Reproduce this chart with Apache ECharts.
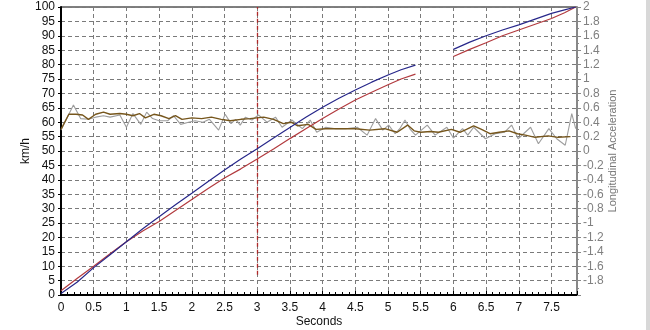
<!DOCTYPE html>
<html>
<head>
<meta charset="utf-8">
<script src="https://cdn.jsdelivr.net/npm/echarts@6/dist/echarts.min.js"></script>
<style>
  html, body { margin: 0; padding: 0; background: #fff; }
  #chart { width: 650px; height: 330px; }
</style>
</head>
<body>
<div id="chart"></div>
<script>
// speed traces (km/h), '-' = gap in the log
const speedTime = [0, 0.25, 0.5, 0.75, 1, 1.25, 1.5, 1.75, 2, 2.25, 2.5, 2.75, 3, 3.25, 3.5, 3.75, 4, 4.25, 4.5, 4.75, 5, 5.2, 5.42,
  5.7, 6.0, 6.25, 6.5, 6.75, 7, 7.25, 7.5, 7.7, 7.87]
const speedBlue = [0.5, 4.5, 9.5, 14, 18.5, 23, 27.2, 31.3, 35.3, 39.4, 43.4, 47.2, 50.8, 54.5, 58.2, 61.8, 65.2, 68.3, 71.2, 73.9, 76.4, 78.2, 79.8,
  '-', 85.3, 87.8, 90, 92, 93.8, 95.8, 97.8, 99, 100]
const speedRed = [1.5, 5.8, 10, 14.3, 18.5, 22.2, 25.5, 29.3, 33.2, 37, 40.6, 43.8, 47.2, 50.7, 54.3, 57.8, 61.3, 64.6, 67.7, 70.4, 73, 75, 76.7,
  '-', 82.8, 85.3, 87.6, 90, 92, 94, 96, 98, 100]

// longitudinal acceleration (g), raw and filtered
const rawTime = [0, 0.19, 0.3, 0.42, 0.53, 0.65, 0.75, 0.9, 1.0, 1.1, 1.22, 1.31, 1.4, 1.5, 1.63, 1.72, 1.83, 1.95, 2.05, 2.17, 2.27, 2.41, 2.51,
  2.6, 2.67, 2.74, 2.82, 2.92, 3.02, 3.15, 3.28, 3.38, 3.53, 3.69, 3.81, 3.91, 4.05, 4.2, 4.35, 4.53, 4.68, 4.81, 4.92, 5.01, 5.11, 5.18,
  5.26, 5.34, 5.42, 5.6, 5.72, 5.9, 6.0, 6.14, 6.22, 6.31, 6.49, 6.64, 6.78, 6.89, 6.99, 7.18, 7.3, 7.46, 7.58, 7.71, 7.81, 7.87]
const rawAccel = [0.29, 0.64, 0.45, 0.44, 0.47, 0.49, 0.47, 0.50, 0.33, 0.52, 0.37, 0.54, 0.45, 0.42, 0.42, 0.49, 0.37, 0.40, 0.42, 0.40, 0.44, 0.29, 0.51,
  0.38, 0.44, 0.36, 0.47, 0.43, 0.50, 0.40, 0.47, 0.33, 0.43, 0.31, 0.43, 0.26, 0.33, 0.31, 0.31, 0.33, 0.22, 0.45, 0.29, 0.36, 0.24, 0.31,
  0.43, 0.30, 0.22, 0.36, 0.22, 0.33, 0.18, 0.31, 0.22, 0.33, 0.17, 0.24, 0.26, 0.36, 0.17, 0.33, 0.10, 0.31, 0.17, 0.08, 0.52, 0.31]
const smoothTime = [0, 0.12, 0.23, 0.33, 0.42, 0.53, 0.65, 0.75, 0.9, 1.0, 1.1, 1.2, 1.29, 1.42, 1.53, 1.65, 1.75, 1.85, 2.0, 2.15, 2.3, 2.45,
  2.59, 2.75, 2.89, 3.1, 3.25, 3.4, 3.52, 3.62, 3.78, 3.9, 4.05, 4.27, 4.5, 4.72, 4.95, 5.14, 5.3, 5.4, 5.5, 5.65, 5.77, 5.97, 6.1, 6.2,
  6.31, 6.43, 6.56, 6.7, 6.85, 6.98, 7.1, 7.25, 7.45, 7.6, 7.79]
const smoothAccel = [0.30, 0.51, 0.51, 0.50, 0.44, 0.51, 0.54, 0.51, 0.52, 0.51, 0.49, 0.52, 0.46, 0.51, 0.49, 0.45, 0.49, 0.44, 0.46, 0.45, 0.47, 0.44,
  0.42, 0.44, 0.45, 0.47, 0.44, 0.38, 0.40, 0.35, 0.37, 0.30, 0.31, 0.31, 0.31, 0.29, 0.31, 0.26, 0.36, 0.28, 0.26, 0.27, 0.26, 0.30, 0.26, 0.30,
  0.35, 0.30, 0.24, 0.26, 0.28, 0.24, 0.22, 0.19, 0.21, 0.19, 0.20]

const markerTime = 3
const markerRange = [7, 100]

const pairs = (xs, ys) => xs.map((x, i) => [x, ys[i]])

const font = 'Liberation Sans, Arial, sans-serif'
const gridDash = { color: '#7a7a7a', type: [4, 3], width: 1 }

let chart = echarts.init(document.getElementById('chart'))
chart.setOption({
  animation: false,
  backgroundColor: '#fff',
  textStyle: { fontFamily: font },
  grid: {
    left: 61, right: 73, top: 7, bottom: 35,
    containLabel: false, outerBoundsMode: 'none',
    show: true, borderColor: '#000', borderWidth: 1
  },
  xAxis: {
    type: 'value', min: 0, max: 7.89, interval: 0.5,
    name: 'Seconds', nameLocation: 'middle', nameGap: 21, nameMoveOverlap: false,
    nameTextStyle: { color: '#111', fontSize: 12, fontFamily: font },
    axisLine: { onZero: false, lineStyle: { color: '#000', width: 2 } },
    axisTick: { inside: true, length: 4, lineStyle: { color: '#000' } },
    minorTick: { show: true, splitNumber: 5, length: 3, lineStyle: { color: '#000' } },
    axisLabel: { color: '#111', fontSize: 12, margin: 7, showMaxLabel: false },
    splitLine: { show: true, lineStyle: gridDash }
  },
  yAxis: [{
    type: 'value', min: 0, max: 100, interval: 5,
    name: 'km/h', nameLocation: 'middle', nameGap: 29, nameRotate: 90, nameMoveOverlap: false,
    nameTextStyle: { color: '#111', fontSize: 12, fontFamily: font },
    axisLine: { show: true, onZero: false, lineStyle: { color: '#000', width: 2 } },
    axisTick: { show: true, length: 3, lineStyle: { color: '#000' } },
    axisLabel: { color: '#111', fontSize: 12, margin: 6 },
    splitLine: { show: true, lineStyle: gridDash }
  }, {
    type: 'value', min: -2, max: 2, interval: 0.2, position: 'right',
    name: 'Longitudinal Acceleration', nameLocation: 'middle', nameGap: 30, nameRotate: 90, nameMoveOverlap: false,
    nameTextStyle: { color: '#777', fontSize: 11, fontFamily: font },
    axisLine: { show: true, onZero: false, lineStyle: { color: '#888', width: 2 } },
    axisTick: { show: true, length: 4, lineStyle: { color: '#888' } },
    minorTick: { show: true, splitNumber: 2, length: 2, lineStyle: { color: '#888' } },
    axisLabel: { color: '#808080', fontSize: 12, margin: 6, showMinLabel: false,
      formatter: v => String(Math.round(v * 10) / 10) },
    splitLine: { show: false }
  }],
  series: [{
    name: 'raw accel', type: 'line', yAxisIndex: 1, symbol: 'none',
    lineStyle: { color: '#9d9d9d', width: 1.1 },
    data: pairs(rawTime, rawAccel)
  }, {
    name: 'filtered accel', type: 'line', yAxisIndex: 1, symbol: 'none',
    lineStyle: { color: '#76561c', width: 1.4 },
    data: pairs(smoothTime, smoothAccel)
  }, {
    name: 'speed 2', type: 'line', symbol: 'none', connectNulls: false,
    lineStyle: { color: '#b23a3e', width: 1.2 },
    data: pairs(speedTime, speedRed)
  }, {
    name: 'speed 1', type: 'line', symbol: 'none', connectNulls: false,
    lineStyle: { color: '#27278a', width: 1.2 },
    data: pairs(speedTime, speedBlue),
    markLine: {
      silent: true, symbol: 'none', label: { show: false }, z: 1,
      lineStyle: { color: '#b02828', type: [4, 3], width: 1.3, opacity: 1 },
      emphasis: { disabled: true },
      data: [[{ coord: [markerTime, markerRange[0]] }, { coord: [markerTime, markerRange[1]] }]]
    }
  }],
  graphic: [{
    type: 'rect', shape: { x: 646, y: 0, width: 4, height: 330 },
    style: { fill: '#d8d8d8' }, silent: true
  }]
})
</script>
</body>
</html>
